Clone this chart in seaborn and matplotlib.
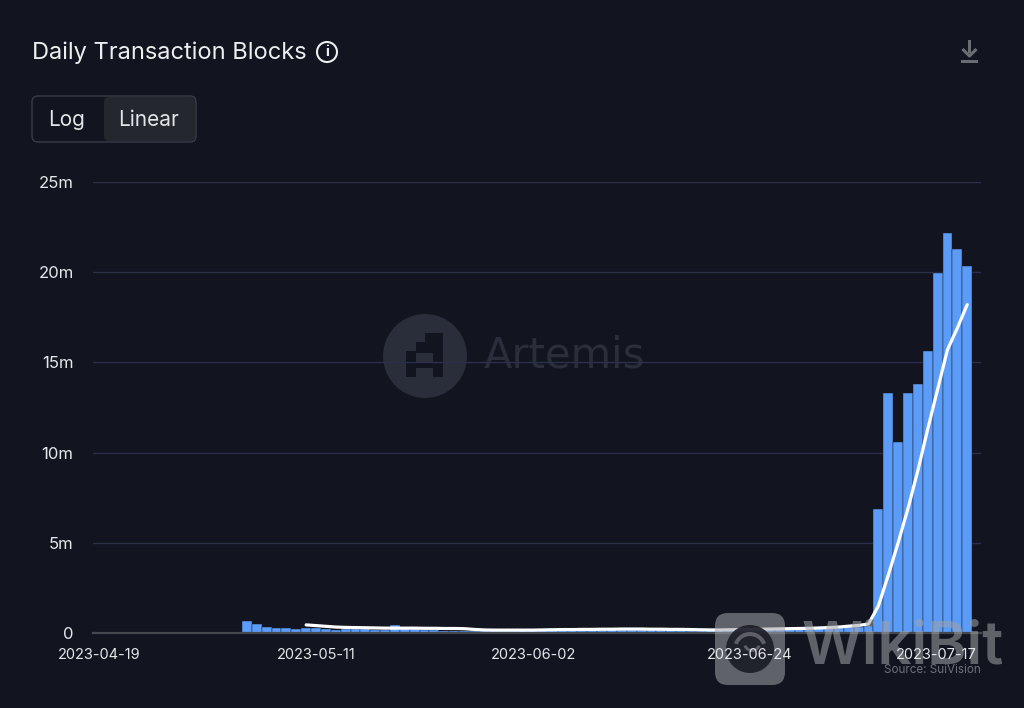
import numpy as np
import pandas as pd
import seaborn as sns
import matplotlib.pyplot as plt
from matplotlib.patches import Circle, FancyBboxPatch, Rectangle, Wedge

# Values in millions
dates = pd.date_range('2023-04-19', periods=90).strftime('%Y-%m-%d').tolist()
blocks = [0] * 15 + [
    0.65, 0.50, 0.35, 0.27, 0.27, 0.20, 0.30, 0.30, 0.22, 0.18,
    0.20, 0.20, 0.22, 0.15, 0.15, 0.42, 0.28, 0.22, 0.18, 0.14,
    0.13, 0.13, 0.12, 0.12, 0.12, 0.12, 0.13, 0.13, 0.14, 0.15,
    0.15, 0.16, 0.17, 0.18, 0.18, 0.19, 0.19, 0.20, 0.18, 0.17,
    0.18, 0.17, 0.16, 0.15, 0.14, 0.13, 0.13, 0.14, 0.15, 0.16,
    0.17, 0.18, 0.19, 0.20, 0.20, 0.21, 0.22, 0.24, 0.26, 0.28,
    0.30, 0.32, 0.35, 0.38,
    6.87, 13.30, 10.60, 13.30, 13.80, 15.63, 19.94, 22.15, 21.30, 20.34, 0,
]
moving_avg = [np.nan] * 21 + [
    0.45, 0.41, 0.37, 0.33, 0.31, 0.30, 0.29, 0.28, 0.27, 0.27,
    0.27, 0.27, 0.26, 0.26, 0.25, 0.25, 0.24, 0.20, 0.17, 0.16,
    0.16, 0.16, 0.16, 0.16, 0.17, 0.18, 0.19, 0.19, 0.20, 0.20,
    0.21, 0.21, 0.22, 0.22, 0.22, 0.21, 0.21, 0.20, 0.20, 0.19,
    0.18, 0.17, 0.17, 0.18, 0.19, 0.20, 0.21, 0.22, 0.23, 0.24,
    0.25, 0.26, 0.28, 0.30, 0.33, 0.38, 0.42, 0.50,
    1.50, 3.20, 5.00, 6.90, 9.00, 11.30, 13.50, 15.70, 16.90, 18.20, np.nan,
]
y_ticks = [0, 5, 10, 15, 20, 25]
y_labels = ['0', '5m', '10m', '15m', '20m', '25m']
x_ticks = ['2023-04-19', '2023-05-11', '2023-06-02', '2023-06-24', '2023-07-17']

BG = '#12141f'
W, H = 1024, 708

sns.set_theme(style='dark')
plt.rcParams['font.family'] = ['Inter', 'DejaVu Sans']

fig = plt.figure(figsize=(W / 100, H / 100), dpi=100, facecolor=BG)


def pixel_axes(zorder):
    # Full figure axes in image pixels, for everything that is not the chart
    a = fig.add_axes([0, 0, 1, 1], zorder=zorder)
    a.set_xlim(0, W)
    a.set_ylim(H, 0)
    a.axis('off')
    return a


chart_pos = [93 / W, 1 - 633 / H, 888 / W, 451 / H]
back = pixel_axes(0)
ax = fig.add_axes(chart_pos, zorder=1)
front = pixel_axes(2)
# Date labels sit on top of the WikiBit watermark, so they get their own axes
date_ax = fig.add_axes(chart_pos, zorder=3)

# Artemis watermark, behind the chart
mark = '#2a2d3a'
back.add_patch(Circle((425, 356), 42, color=mark, lw=0))
for x0, y0, w, h in [(433, 333, 10, 44), (425, 333, 18, 9), (416, 342, 27, 10),
                     (406, 351, 37, 2), (406, 351, 10, 26), (406, 362, 37, 6)]:
    back.add_patch(Rectangle((x0, y0), w, h, color=BG, lw=0))
back.text(484, 356, 'Artemis', color=mark, fontsize=30, va='center', ha='left',
          family=['DejaVu Sans'])

# Bars and moving average
sns.barplot(x=dates, y=blocks, order=dates, color='#5b9cf8', width=1.0, saturation=1,
            edgecolor=BG, linewidth=0.3, ax=ax, zorder=2)
sns.lineplot(x=np.arange(len(dates)), y=moving_avg, color='white', linewidth=2.3, ax=ax, zorder=3)

ax.patch.set_visible(False)
ax.set_xlim(-0.6, len(dates) - 0.6)
ax.set_ylim(0, 25)
ax.set_yticks(y_ticks)
ax.set_yticklabels(y_labels)
ax.set_xticks([])
ax.xaxis.grid(False)
ax.yaxis.grid(True, color='#2a3048', linewidth=1)
ax.set_axisbelow(True)
ax.tick_params(axis='y', length=0, labelsize=12, labelcolor='#e6e7ea', pad=14)
for s in ['top', 'left', 'right']:
    ax.spines[s].set_visible(False)
ax.spines['bottom'].set_color('#45474f')
ax.spines['bottom'].set_linewidth(1.6)

date_ax.patch.set_visible(False)
date_ax.set_xlim(ax.get_xlim())
date_ax.set_xticks([dates.index(d) for d in x_ticks])
date_ax.set_xticklabels(x_ticks)
date_ax.set_yticks([])
date_ax.tick_params(axis='x', length=0, labelsize=10.5, labelcolor='#e6e7ea', pad=10.5)
date_ax.get_xticklabels()[-1].set_ha('right')
for s in date_ax.spines.values():
    s.set_visible(False)

# Title and controls
front.text(32, 53, 'Daily Transaction Blocks', color='#eceef0', fontsize=17, va='center', ha='left')
front.add_patch(Circle((327, 52), 10, fill=False, ec='#eceef0', lw=1.5))
front.text(327, 52.5, 'i', color='#eceef0', fontsize=10.5, weight='bold', va='center', ha='center')

front.add_patch(FancyBboxPatch((104, 97), 91, 44, boxstyle='round,pad=0,rounding_size=5', fc='#25272f', ec='none'))
front.add_patch(FancyBboxPatch((32, 96), 164, 46, boxstyle='round,pad=0,rounding_size=6', fill=False, ec='#3a3c46', lw=1))
front.text(67, 120, 'Log', color='#e4e5e8', fontsize=15, va='center', ha='center')
front.text(149, 120, 'Linear', color='#e4e5e8', fontsize=15, va='center', ha='center')

# Download icon
icon = '#6b6d75'
front.add_patch(Rectangle((961, 60), 17, 3, color=icon, lw=0))
front.add_patch(Rectangle((968, 40), 3, 13, color=icon, lw=0))
front.plot([962.5, 969.5, 976.5], [49, 56, 49], color=icon, lw=2.2, solid_capstyle='butt')

# WikiBit watermark and source, on top of the chart
wm = '#a2a3a9'
front.add_patch(FancyBboxPatch((715, 613), 70, 72, boxstyle='round,pad=0,rounding_size=13', fc=wm, ec='none', alpha=0.55))
front.add_patch(Circle((750, 649), 24, fc='#1b1c25', ec='none', alpha=0.9))
front.add_patch(Wedge((750, 649), 17, 200, 340, width=4, fc='#5d5e66', ec='none'))
front.add_patch(Wedge((752, 643), 9, 20, 160, width=3, fc='#5d5e66', ec='none'))
front.text(802, 648, 'WikiBit', color=wm, alpha=0.55, fontsize=43, weight='semibold', va='center', ha='left')
front.text(981, 670, 'Source: SuiVision', color='#6f7179', fontsize=8.4, va='center', ha='right')

fig.savefig('out.png', dpi=100, facecolor=BG)
